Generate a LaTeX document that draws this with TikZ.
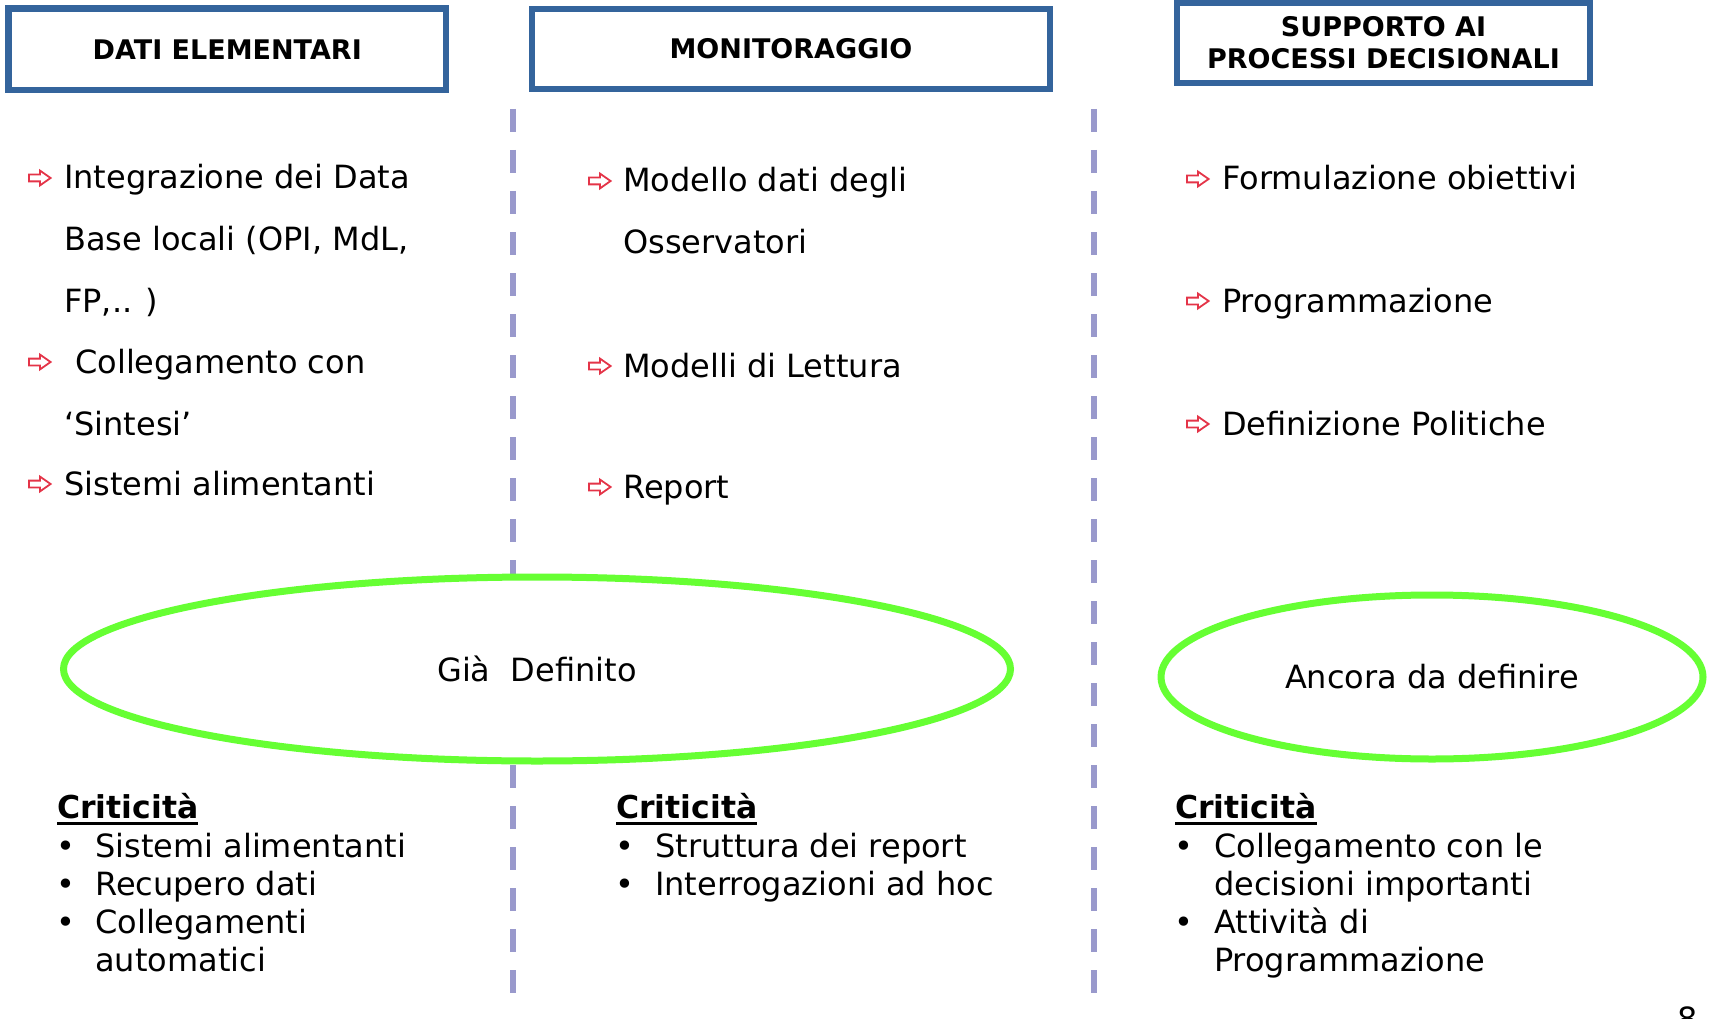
\documentclass[tikz,border=0pt]{standalone}
\usepackage{fontspec}
\setmainfont{DejaVu Sans}
\usetikzlibrary{shapes.geometric}
\definecolor{hdrblue}{RGB}{52,100,156}
\definecolor{dashpurple}{RGB}{153,153,204}
\definecolor{limegreen}{RGB}{102,255,51}
\definecolor{arrowred}{RGB}{228,52,72}
\begin{document}
\begin{tikzpicture}[x=1pt,y=-1pt,
  hdr/.style={draw=hdrblue, line width=6.5pt, fill=white, inner sep=0pt,
    align=center, font=\fontsize{27}{32}\bfseries\selectfont},
  dashline/.style={draw=dashpurple, line width=6pt, dash pattern=on 23pt off 18pt},
  oval/.style={ellipse, draw=limegreen, line width=7pt, fill=white, inner sep=0pt,
    font=\fontsize{32}{38}\selectfont},
  item/.style={anchor=base west, inner sep=0pt, font=\fontsize{32}{38}\selectfont},
  crit/.style={anchor=base west, inner sep=0pt, font=\fontsize{31.5}{38}\bfseries\selectfont},
  bul/.style={anchor=base, inner sep=0pt, font=\fontsize{32}{38}\selectfont},
  warrow/.pic={\draw[arrowred, line width=1.8pt, fill=white, line join=miter]
    (0.9,-3.4) -- (12,-3.4) -- (12,-7.4) -- (22.6,0) -- (12,7.4) -- (12,3.4) -- (0.9,3.4) -- cycle;}
]
\useasboundingbox (0,0) rectangle (1713,1019);
\clip (0,0) rectangle (1713,1019);

% dashed separators
\coordinate (d1t) at (513,109);
\coordinate (d1b) at (513,1002);
\coordinate (d2t) at (1094,109);
\coordinate (d2b) at (1094,1002);
\draw[dashline] (d1t) -- (d1b);
\draw[dashline] (d2t) -- (d2b);

% headers
\node[hdr, minimum width=437.5pt, minimum height=81.5pt] (h1) at (227.25,49.25) {DATI ELEMENTARI};
\node[hdr, minimum width=518pt, minimum height=80pt] (h2) at (791,49) {MONITORAGGIO};
\node[hdr, minimum width=413pt, minimum height=80pt] (h3) at (1383.5,43) {SUPPORTO AI\\PROCESSI DECISIONALI};

% left column
\pic at (28,178) {warrow};
\pic at (28,362) {warrow};
\pic at (28,484) {warrow};
\node[item] (l1) at (64,189) {Integrazione dei Data};
\node[item] (l2) at (64,251) {Base locali (OPI, MdL,};
\node[item] (l3) at (64,312) {FP,.. )};
\node[item] (l4) at (75,373) {Collegamento con};
\node[item] (l5) at (64,435) {‘Sintesi’};
\node[item] (l6) at (64,495) {Sistemi alimentanti};

% middle column
\pic at (588,181) {warrow};
\pic at (588,366) {warrow};
\pic at (588,487) {warrow};
\node[item] (m1) at (623,192) {Modello dati degli};
\node[item] (m2) at (623,253) {Osservatori};
\node[item] (m3) at (623,377) {Modelli di Lettura};
\node[item] (m4) at (623,498) {Report};

% right column
\pic at (1186,179) {warrow};
\pic at (1186,301) {warrow};
\pic at (1186,424) {warrow};
\node[item] (r1) at (1222,190) {Formulazione obiettivi};
\node[item] (r2) at (1222,312) {Programmazione};
\node[item] (r3) at (1222,435) {Definizione Politiche};

% ellipses
\node[oval, minimum width=947pt, minimum height=184pt] (e1) at (537,669) {Già~ Definito};
\node[oval, minimum width=542pt, minimum height=164pt] (e2) at (1432,677) {Ancora da definire};

% criticità left
\node[crit] (c1) at (57,818) {Criticità};
\draw[line width=3pt] ([yshift=-5.5pt]c1.base west) -- ([yshift=-5.5pt]c1.base east);
\node[bul] (b11) at (65.5,857) {•};
\node[item] (t11) at (95,857) {Sistemi alimentanti};
\node[bul] (b12) at (65.5,895) {•};
\node[item] (t12) at (95,895) {Recupero dati};
\node[bul] (b13) at (65.5,933) {•};
\node[item] (t13) at (95,933) {Collegamenti};
\node[item] (t14) at (95,971) {automatici};

% criticità middle
\node[crit] (c2) at (616,818) {Criticità};
\draw[line width=3pt] ([yshift=-5.5pt]c2.base west) -- ([yshift=-5.5pt]c2.base east);
\node[bul] (b21) at (624.5,857) {•};
\node[item] (t21) at (655,857) {Struttura dei report};
\node[bul] (b22) at (624.5,895) {•};
\node[item] (t22) at (655,895) {Interrogazioni ad hoc};

% criticità right
\node[crit] (c3) at (1175,818) {Criticità};
\draw[line width=3pt] ([yshift=-5.5pt]c3.base west) -- ([yshift=-5.5pt]c3.base east);
\node[bul] (b31) at (1183.5,857) {•};
\node[item] (t31) at (1214,857) {Collegamento con le};
\node[item] (t32) at (1214,895) {decisioni importanti};
\node[bul] (b33) at (1183.5,933) {•};
\node[item] (t33) at (1214,933) {Attività di};
\node[item] (t34) at (1214,971) {Programmazione};

% page number
\node[bul] (pg) at (1688,1030) {8};
\end{tikzpicture}
\end{document}
